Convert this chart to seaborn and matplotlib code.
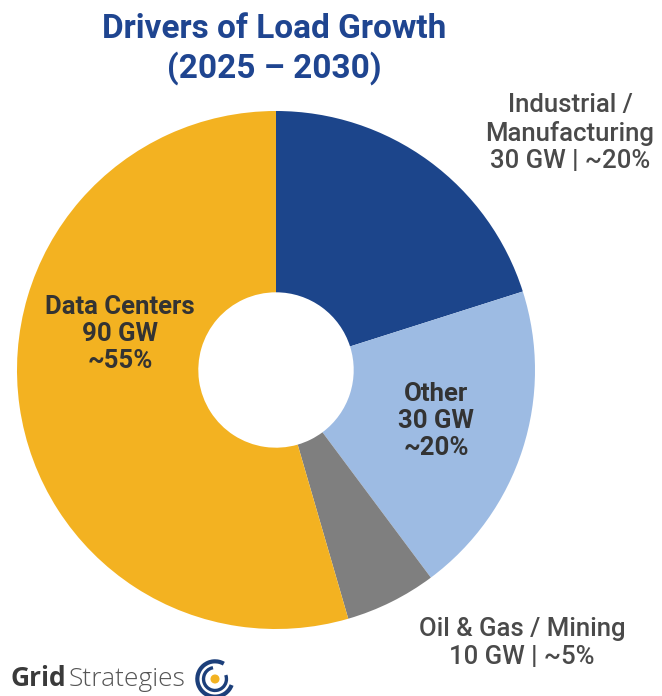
import matplotlib
matplotlib.use("Agg")
import matplotlib.pyplot as plt
from matplotlib.patches import Arc, Circle
import seaborn as sns

# ---- data ----
categories = ["Industrial /\nManufacturing", "Other", "Oil & Gas / Mining", "Data Centers"]
gigawatts = [30, 30, 10, 90]
shares = [20.1, 19.7, 5.7, 54.5]          # wedge shares
share_labels = ["~20%", "~20%", "~5%", "~55%"]
colors = ["#1C458B", "#9DBBE3", "#7F7F7F", "#F3B221"]

sns.set_theme(style="white")
plt.rcParams["font.family"] = ["Roboto", "DejaVu Sans"]

W, H = 662, 696
fig = plt.figure(figsize=(W / 100, H / 100), dpi=100)
fig.patch.set_facecolor("white")

def px(x, y):
    return x / W, 1 - y / H

# pie axes: centre (276, 370), radius 259 px
cx, cy, r = 276, 370, 259
ax = fig.add_axes([(cx - r) / W, (H - cy - r) / H, 2 * r / W, 2 * r / H])
ax.pie(shares, colors=colors, startangle=90, counterclock=False,
       radius=1.0, wedgeprops=dict(width=0.70, linewidth=0, antialiased=True))
ax.set_xlim(-1, 1)
ax.set_ylim(-1, 1)
ax.set_aspect("equal")
ax.axis("off")

# title
title_col = "#1F4590"
fig.text(*px(274, 29), "Drivers of Load Growth", ha="center", va="center",
         fontsize=24, fontweight="bold", color=title_col)
fig.text(*px(274, 68), "(2025 \u2013 2030)", ha="center", va="center",
         fontsize=24, fontweight="bold", color=title_col)

lab_col = "#4A4A4A"
inner_col = "#333333"
fs = 18.5
ls = 1.17

# outside labels
fig.text(*px(570, 133),
         f"{categories[0]}\n{gigawatts[0]} GW | {share_labels[0]}",
         ha="center", va="center", fontsize=fs, fontweight="medium",
         color=lab_col, linespacing=ls)
fig.text(*px(522, 643),
         f"{categories[2]}\n{gigawatts[2]} GW | {share_labels[2]}",
         ha="center", va="center", fontsize=fs, fontweight="medium",
         color=lab_col, linespacing=ls)

# inside labels
fig.text(*px(120, 334),
         f"{categories[3]}\n{gigawatts[3]} GW\n{share_labels[3]}",
         ha="center", va="center", fontsize=fs, fontweight="bold",
         color=inner_col, linespacing=ls)
fig.text(*px(436, 421),
         f"{categories[1]}\n{gigawatts[1]} GW\n{share_labels[1]}",
         ha="center", va="center", fontsize=fs, fontweight="bold",
         color=inner_col, linespacing=ls)

# logo text
t_grid = fig.text(*px(11, 679), "Grid", ha="left", va="center", fontsize=19,
                  fontweight="bold", color="#3A3A3A",
                  family=["Open Sans", "DejaVu Sans"])
fig.canvas.draw()
bb = t_grid.get_window_extent(renderer=fig.canvas.get_renderer())
fig.text(bb.x1 / W + 2 / W, 1 - 679 / H, "Strategies", ha="left", va="center",
         fontsize=19, fontweight="light", color="#555555",
         family=["Open Sans", "DejaVu Sans"])

# logo icon
lax = fig.add_axes([194 / W, 1 - 700 / H, 42 / W, 42 / H])
lax.set_xlim(-1.1, 1.1)
lax.set_ylim(-1.1, 1.1)
lax.set_aspect("equal")
lax.axis("off")
blue = "#1C3F7A"
lax.add_patch(Arc((0, 0), 1.85, 1.85, theta1=60, theta2=340, lw=3.0, color=blue))
lax.add_patch(Arc((0, 0), 1.2, 1.2, theta1=100, theta2=20, lw=2.4, color=blue))
lax.add_patch(Circle((0, 0), 0.2, color="#F3B221"))

fig.savefig("out.png", dpi=100, facecolor="white")
